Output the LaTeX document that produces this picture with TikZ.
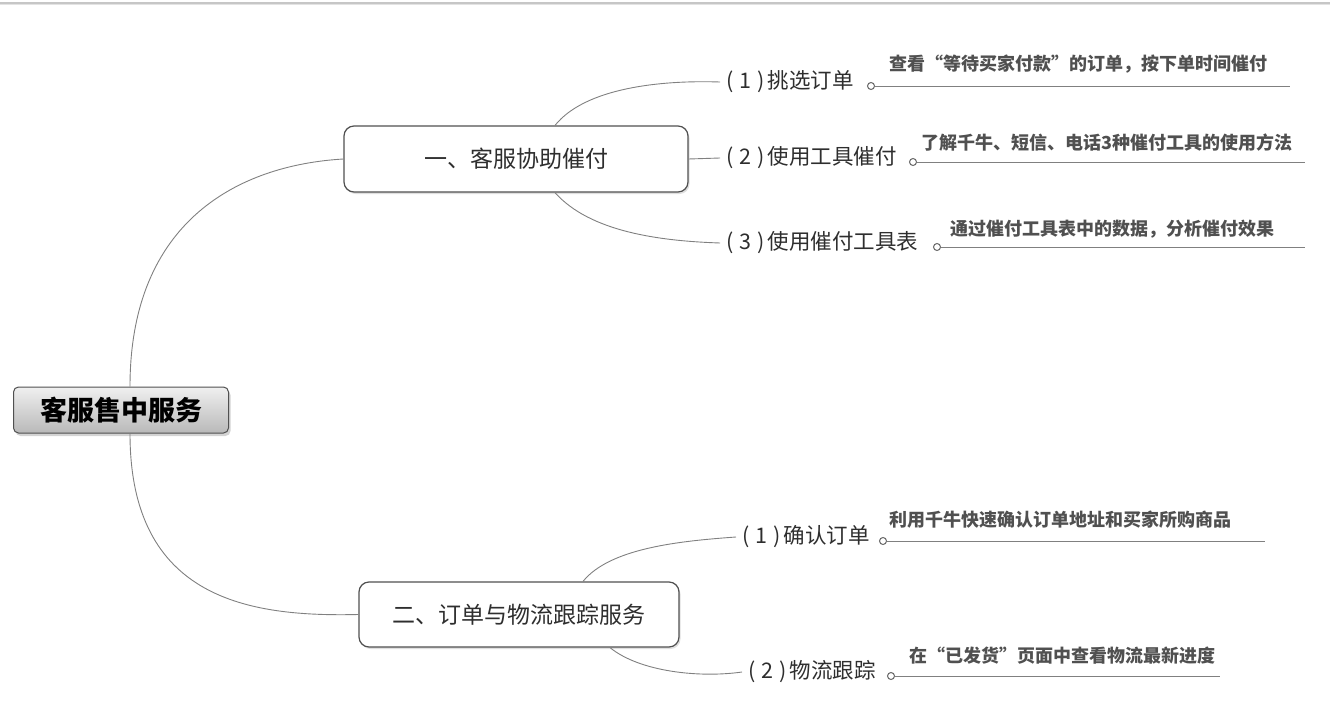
\documentclass[tikz,border=0pt]{standalone}
\usepackage{fontspec}
\setmainfont{Noto Sans CJK SC}
\usetikzlibrary{shadows,calc}
\definecolor{linegray}{HTML}{808080}
\definecolor{textdark}{HTML}{2E2E2E}
\definecolor{detailgray}{HTML}{505050}
\definecolor{boxborder}{HTML}{505050}
\newcommand{\numlab}[1]{\hspace{6pt}(\hspace{6pt}#1\hspace{6pt})\hspace{3pt}}
\begin{document}
\begin{tikzpicture}[x=1pt,y=-1pt,
  conn/.style={draw=linegray, line width=0.9pt},
  rootbox/.style={draw=boxborder, line width=1pt, rounded corners=5pt,
    top color=gray!12, bottom color=gray!55, minimum width=215pt, minimum height=46pt,
    inner sep=0pt, text=black, font=\fontsize{27}{30}\selectfont\bfseries,
    drop shadow={shadow xshift=2pt, shadow yshift=-3pt, opacity=0.35}},
  mainbox/.style={draw=boxborder, line width=1.2pt, rounded corners=10pt, fill=white,
    inner sep=0pt, text=textdark, font=\fontsize{23}{26}\selectfont,
    drop shadow={shadow xshift=1.5pt, shadow yshift=-2pt, opacity=0.25}},
  sublabel/.style={anchor=west, inner sep=0pt, text=textdark, font=\fontsize{21.5}{24}\selectfont},
  dot/.style={circle, draw=linegray!80!black, line width=1pt, fill=white, minimum size=7pt, inner sep=0pt},
  detail/.style={anchor=south west, inner sep=0pt, text=detailgray, font=\fontsize{18}{21}\selectfont\bfseries},
  uline/.style={draw=linegray, line width=1pt}
]
\useasboundingbox (0,0) rectangle (1330,701);
% top border strip
\fill[gray!45] (0,2.5) rectangle (1330,4);
\fill[gray!22] (0,4) rectangle (1330,5.5);

% root
\node[rootbox] (root) at (121,410) {客服售中服务};

% main boxes
\node[mainbox, minimum width=344pt, minimum height=66pt] (b1) at (516,159) {一、客服协助催付};
\node[mainbox, minimum width=320pt, minimum height=65pt] (b2) at (519,614.5) {二、订单与物流跟踪服务};

% root to boxes
\draw[conn] ([xshift=9pt]root.north) .. controls (130,220) and (240,165) .. (b1.west);
\draw[conn] ([xshift=9pt]root.south) .. controls (130,600) and (250,617) .. (b2.west);

% sub labels of branch 1
\node[sublabel] (s11) at (720,82) {\numlab{1}挑选订单};
\node[sublabel] (s12) at (720,158) {\numlab{2}使用工具催付};
\node[sublabel] (s13) at (720,243) {\numlab{3}使用催付工具表};

\draw[conn] ([xshift=39pt]b1.north) .. controls (585,88) and (660,80) .. (s11.west);
\draw[conn] (b1.east) -- (s12.west);
\draw[conn] ([xshift=39pt]b1.south) .. controls (590,232) and (660,241) .. (s13.west);

% sub labels of branch 2
\node[sublabel] (s21) at (736,537) {\numlab{1}确认订单};
\node[sublabel] (s22) at (742,672) {\numlab{2}物流跟踪};

\draw[conn] ([xshift=64pt]b2.north) .. controls (610,548) and (680,541) .. (s21.west);
\draw[conn] ([xshift=91pt]b2.south) .. controls (640,672) and (700,678) .. (s22.west);

% dots, underlines and detail texts
\node[dot] (d11) at (871,86) {};
\coordinate (e11) at (1290,86);
\draw[uline] (d11.east) -- (e11);
\node[detail] (t11) at (889,73) {查看“等待买家付款”的订单，按下单时间催付};

\node[dot] (d12) at (913,162) {};
\coordinate (e12) at (1305,162);
\draw[uline] (d12.east) -- (e12);
\node[detail] (t12) at (921,152) {了解千牛、短信、电话3种催付工具的使用方法};

\node[dot] (d13) at (937,247) {};
\coordinate (e13) at (1305,247);
\draw[uline] (d13.east) -- (e13);
\node[detail] (t13) at (950,238) {通过催付工具表中的数据，分析催付效果};

\node[dot] (d21) at (883,541) {};
\coordinate (e21) at (1265,541);
\draw[uline] (d21.east) -- (e21);
\node[detail] (t21) at (889,529) {利用千牛快速确认订单地址和买家所购商品};

\node[dot] (d22) at (891,676) {};
\coordinate (e22) at (1220,676);
\draw[uline] (d22.east) -- (e22);
\node[detail] (t22) at (909,664) {在“已发货”页面中查看物流最新进度};
\end{tikzpicture}
\end{document}
